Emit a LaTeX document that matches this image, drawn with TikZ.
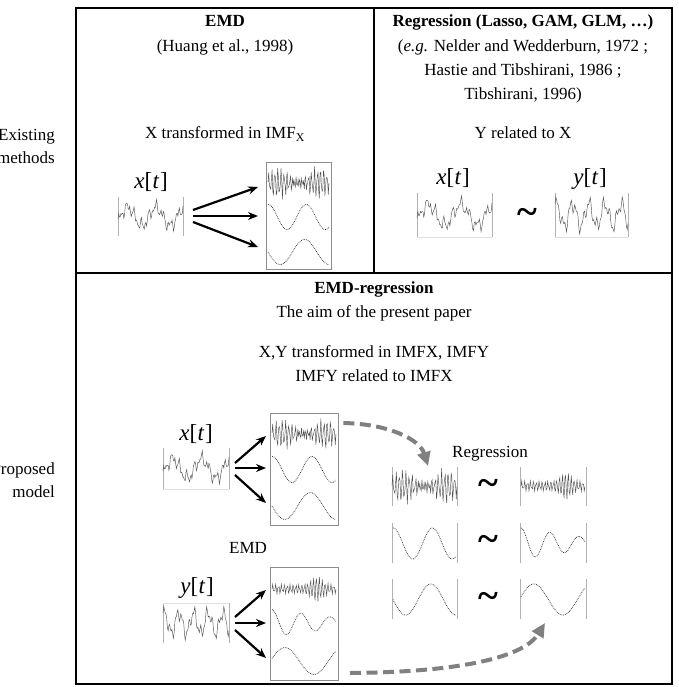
\documentclass[tikz,border=0pt]{standalone}
\usepackage{fontspec}
\setmainfont{Liberation Serif}
\usetikzlibrary{arrows.meta}
\newcommand{\sigcurve}[6][]{\draw[#1] plot ({#2+#4*\x},{#3+#5*(0.5-0.42*(#6))});}
\newcommand{\sigl}[1]{\textit{#1}[\kern0.5pt\textit{t}\kern0.5pt]}
\begin{document}
\begin{tikzpicture}[x=1pt,y=-1pt]
\tikzset{
 frame/.style={draw=black, line width=1.3pt},
 divider/.style={draw=black, line width=2.2pt},
 txt/.style={font=\fontsize{17}{20}\selectfont, anchor=base, inner sep=0pt},
 sidetxt/.style={font=\fontsize{17}{23}\selectfont, anchor=east, align=right, inner sep=0pt},
 siglab/.style={font=\fontsize{23}{23}\selectfont, anchor=base, inner sep=0pt},
 plotbox/.style={draw=none, inner sep=0pt},
 edgev/.style={draw=black!30, line width=0.5pt},
 edgeh/.style={draw=black!12, line width=0.5pt},
 imfbox/.style={draw=black!45, line width=0.8pt, inner sep=0pt},
 noisy/.style={draw=black!68, line width=0.45pt, samples=90, domain=0:1},
 smoothsig/.style={draw=black!80, line width=0.75pt, densely dotted, samples=60, domain=0:1},
 emdarrow/.style={-{Stealth[length=10pt,width=8pt]}, line width=2.2pt},
 regarrow/.style={draw=black!50, line width=4pt, dash pattern=on 11pt off 5.5pt, -{Triangle[length=14pt,width=13pt]}},
 tildenode/.style={font=\fontsize{38}{38}\selectfont\bfseries, inner sep=0pt},
}
\useasboundingbox (0,0) rectangle (678,687);
% frame
\draw[frame] (76,8) rectangle (672,684);
\draw[divider] (76,273) -- (672,273);
\draw[frame] (374,8) -- (374,273);
% side labels
\node[sidetxt] (exist) at (55,146) {Existing\\methods};
\node[sidetxt] (prop) at (55,480) {Proposed\\model};
% ---------- top-left: EMD
\node[txt] (emdT) at (225,27) {\textbf{EMD}};
\node[txt] (huang) at (225,52) {(Huang et al., 1998)};
\node[txt] (xtr) at (225,139) {X transformed in IMF\textsubscript{X}};
\node[siglab] (xl1) at (151,188) {\sigl{x}};
\node[plotbox, minimum width=65pt, minimum height=39pt] (xp1) at (150.5,216.5) {};
\draw[edgev] (xp1.north west) -- (xp1.south west) (xp1.north east) -- (xp1.south east);
\sigcurve[noisy]{118}{197}{65}{39}{0.55*sin(828*\x-34)+0.25*sin(3240*\x)+0.18*sin(6120*\x+50)+0.12*sin(10440*\x)}
\node[imfbox, minimum width=65pt, minimum height=107pt] (imf1) at (298.5,215.5) {};
\sigcurve[noisy]{268}{167}{61}{32}{(0.55+0.45*sin(540*\x))*sin(7200*\x)+0.35*sin(11880*\x+10)}
\sigcurve[smoothsig]{268}{202}{61}{30}{cos(576*\x)}
\sigcurve[smoothsig]{268}{237}{61}{30}{-cos(450*(\x-0.2))}
\coordinate (a1s) at (193,210); \coordinate (a1e) at (258,187);
\coordinate (a2s) at (193,216); \coordinate (a2e) at (258,216);
\coordinate (a3s) at (193,222); \coordinate (a3e) at (258,247);
\draw[emdarrow] (a1s) -- (a1e);
\draw[emdarrow] (a2s) -- (a2e);
\draw[emdarrow] (a3s) -- (a3e);
% ---------- top-right: Regression
\node[txt] (regT) at (523,27) {\textbf{Regression (Lasso, GAM, GLM, …)}};
\node[txt] (ref1) at (523,52) {(\textit{e.g.} Nelder and Wedderburn, 1972 ;};
\node[txt] (ref2) at (523,76) {Hastie and Tibshirani, 1986 ;};
\node[txt] (ref3) at (523,100) {Tibshirani, 1996)};
\node[txt] (yrel) at (523,139) {Y related to X};
\node[siglab] (xl2) at (453,184) {\sigl{x}};
\node[siglab] (yl2) at (590,184) {\sigl{y}};
\node[plotbox, minimum width=75pt, minimum height=44pt] (xp2) at (454.5,215) {};
\draw[edgev] (xp2.north west) -- (xp2.south west) (xp2.north east) -- (xp2.south east);
\draw[edgeh] (xp2.south west) -- (xp2.south east);
\sigcurve[noisy]{417}{193}{75}{44}{0.55*sin(828*\x-34)+0.25*sin(3240*\x)+0.18*sin(6120*\x+50)+0.12*sin(10440*\x)}
\node[tildenode] (til0) at (527,216) {\char`~};
\node[plotbox, minimum width=73pt, minimum height=44pt] (yp2) at (591.5,215) {};
\draw[edgev] (yp2.north west) -- (yp2.south west) (yp2.north east) -- (yp2.south east);
\draw[edgeh] (yp2.south west) -- (yp2.south east);
\sigcurve[noisy]{555}{193}{73}{44}{0.6*sin(1620*\x+60)+0.3*sin(3960*\x)+0.2*sin(8280*\x+20)}
% ---------- bottom: EMD-regression
\node[txt] (emdrT) at (374,293) {\textbf{EMD-regression}};
\node[txt] (aim) at (374,317) {The aim of the present paper};
\node[txt] (xytr) at (374,357) {X,Y transformed in IMFX, IMFY};
\node[txt] (imfrel) at (374,381) {IMFY related to IMFX};
% x input
\node[siglab] (xl3) at (196,440) {\sigl{x}};
\node[plotbox, minimum width=66pt, minimum height=41pt] (xp3) at (196,468.5) {};
\draw[edgev] (xp3.north west) -- (xp3.south west) (xp3.north east) -- (xp3.south east);
\draw[edgeh] (xp3.south west) -- (xp3.south east);
\sigcurve[noisy]{163}{448}{66}{41}{0.55*sin(828*\x-34)+0.25*sin(3240*\x)+0.18*sin(6120*\x+50)+0.12*sin(10440*\x)}
\node[imfbox, minimum width=68pt, minimum height=112pt] (imf2) at (304,469) {};
\sigcurve[noisy]{272}{419}{64}{30}{(0.55+0.45*sin(540*\x))*sin(7200*\x)+0.35*sin(11880*\x+10)}
\sigcurve[smoothsig]{272}{454}{64}{31}{cos(576*\x)}
\sigcurve[smoothsig]{272}{490}{64}{32}{-cos(450*(\x-0.2))}
\coordinate (b1s) at (235,463); \coordinate (b1e) at (266,436);
\coordinate (b2s) at (235,468); \coordinate (b2e) at (266,468);
\coordinate (b3s) at (235,475); \coordinate (b3e) at (266,503);
\draw[emdarrow] (b1s) -- (b1e);
\draw[emdarrow] (b2s) -- (b2e);
\draw[emdarrow] (b3s) -- (b3e);
\node[txt] (emdL) at (248,553) {EMD};
% y input
\node[siglab] (yl3) at (197,593) {\sigl{y}};
\node[plotbox, minimum width=66pt, minimum height=40pt] (yp3) at (196,623) {};
\draw[edgev] (yp3.north west) -- (yp3.south west) (yp3.north east) -- (yp3.south east);
\draw[edgeh] (yp3.north west) -- (yp3.north east);
\sigcurve[noisy]{163}{603}{66}{40}{0.6*sin(1620*\x+60)+0.3*sin(3960*\x)+0.2*sin(8280*\x+20)}
\node[imfbox, minimum width=68pt, minimum height=113pt] (imf3) at (304,623.5) {};
\sigcurve[noisy]{272}{574}{64}{30}{(0.3+0.7*exp(-(((\x-0.7)/0.12)^2)))*sin(7920*\x)+0.15*sin(13320*\x)}
\sigcurve[smoothsig]{272}{607}{64}{32}{(1-0.6*\x)*cos(792*\x)}
\sigcurve[smoothsig]{272}{645}{64}{32}{cos(396*(\x-0.2))}
\coordinate (c1s) at (235,617); \coordinate (c1e) at (266,590);
\coordinate (c2s) at (235,623); \coordinate (c2e) at (266,623);
\coordinate (c3s) at (235,630); \coordinate (c3e) at (266,658);
\draw[emdarrow] (c1s) -- (c1e);
\draw[emdarrow] (c2s) -- (c2e);
\draw[emdarrow] (c3s) -- (c3e);
% regression block
\node[txt] (regL) at (490,457) {Regression};
\node[plotbox, minimum width=65pt, minimum height=39pt] (rx1) at (424.5,486.5) {};
\node[plotbox, minimum width=65pt, minimum height=40pt] (rx2) at (424.5,543) {};
\node[plotbox, minimum width=65pt, minimum height=40pt] (rx3) at (424.5,599) {};
\node[plotbox, minimum width=66pt, minimum height=39pt] (ry1) at (553,486.5) {};
\node[plotbox, minimum width=66pt, minimum height=40pt] (ry2) at (553,543) {};
\node[plotbox, minimum width=66pt, minimum height=40pt] (ry3) at (553,599) {};
\foreach \n in {rx1,rx2,rx3,ry1,ry2,ry3}
  \draw[edgev] (\n.north west) -- (\n.south west) (\n.north east) -- (\n.south east);
\sigcurve[noisy]{392}{469}{65}{35}{(0.55+0.45*sin(540*\x))*sin(7200*\x)+0.35*sin(11880*\x+10)}
\sigcurve[smoothsig]{393}{525}{63}{37}{cos(576*\x)}
\sigcurve[smoothsig]{393}{581}{63}{37}{-cos(450*(\x-0.2))}
\sigcurve[noisy]{521}{470}{64}{32}{(0.3+0.7*exp(-(((\x-0.7)/0.12)^2)))*sin(7920*\x)+0.15*sin(13320*\x)}
\sigcurve[smoothsig]{521}{525}{64}{37}{(1-0.6*\x)*cos(792*\x)}
\sigcurve[smoothsig]{521}{581}{64}{37}{cos(396*(\x-0.2))}
\node[tildenode] (til1) at (488,487) {\char`~};
\node[tildenode] (til2) at (488,543) {\char`~};
\node[tildenode] (til3) at (488,600) {\char`~};
% dashed arrows
\coordinate (d1s) at (imf2.east |- 0,423);
\coordinate (d1e) at (428,466);
\coordinate (d2s) at (350,673);
\coordinate (d2e) at (545,623);
\draw[regarrow] ([xshift=5pt]d1s) .. controls (390,424) and (420,440) .. (d1e);
\draw[regarrow] (d2s) .. controls (470,672) and (525,655) .. (d2e);
\end{tikzpicture}
\end{document}
